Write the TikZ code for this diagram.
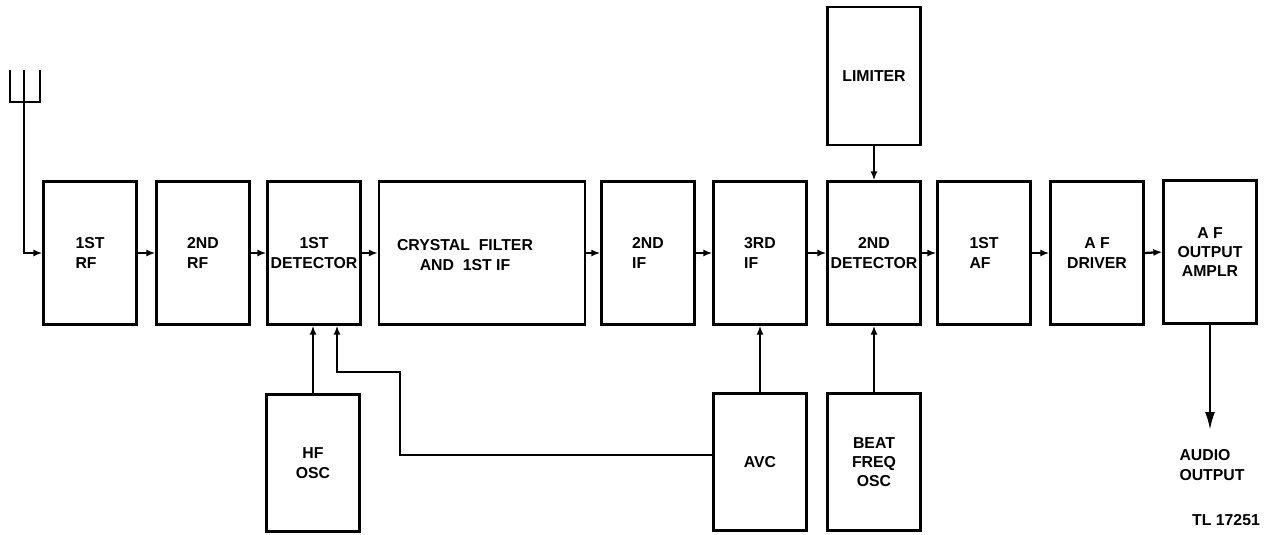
\documentclass[tikz,border=0pt]{standalone}
\usepackage{fontspec}
\setmainfont{Liberation Sans}
\usetikzlibrary{arrows.meta}

\begin{document}
\begin{tikzpicture}[x=0.02cm,y=-0.02cm]

    % styles
    \tikzstyle{blk} = [draw=black,line width=1.3pt,inner sep=0pt,minimum width=1.86cm,minimum height=2.86cm,font=\fontsize{9}{11}\selectfont\bfseries,align=center]
    \tikzstyle{lowblk} = [blk,minimum height=2.74cm]
    \tikzstyle{sig} = [line width=1.3pt,-{Latex[length=1.8mm,width=1.4mm]}]
    \tikzstyle{outsig} = [line width=1.3pt,-{Latex[length=3.6mm,width=2mm]}]
    \tikzstyle{wire} = [line width=1.3pt]
    \tikzstyle{lbl} = [font=\fontsize{9}{11}\selectfont\bfseries,align=left]

    \useasboundingbox (0,0) rectangle (1270,534);

    % main chain
    \node[blk,align=left] (rf1) at (90,253) {1ST\\RF};
    \node[blk,align=left] (rf2) at (203,253) {2ND\\RF};
    \node[blk] (det1) at (314,253) {1ST\\DETECTOR};
    \node[blk,minimum width=4.12cm] (xtal) at (482,253) {};
    \node[lbl,align=center] (xtaltxt) at (465,255) {CRYSTAL\ \ FILTER\\AND\ \ 1ST IF};
    \node[blk,align=left] (if2) at (648,253) {2ND\\IF};
    \node[blk,align=left] (if3) at (760,253) {3RD\\IF};
    \node[blk] (det2) at (874,253) {2ND\\DETECTOR};
    \node[blk,align=left] (af1) at (984,253) {1ST\\AF};
    \node[blk] (drv) at (1097,253) {A F\\DRIVER};
    \node[blk] (amp) at (1210,252) {A F\\OUTPUT\\AMPLR};

    % side blocks
    \node[blk,minimum height=2.76cm] (lim) at (874,76) {LIMITER};
    \node[lowblk] (hfo) at (313,463) {HF\\OSC};
    \node[lowblk] (avc) at (760,462) {AVC};
    \node[lowblk] (bfo) at (874,462) {BEAT\\FREQ\\OSC};

    % antenna
    \coordinate (ant) at (24,102);
    \draw[wire] (10,70) -- (10,102) -- (40,102) -- (40,70);
    \draw[wire] (ant) -- (24,70);
    \draw[sig] (ant) |- (rf1.west);

    % signal path
    \foreach \a/\b in {rf1/rf2,rf2/det1,det1/xtal,xtal/if2,if2/if3,if3/det2,det2/af1,af1/drv,drv/amp} {
        \draw[sig] (\a.east) -- (\b.west);
    }

    % feeds
    \draw[sig] (lim.south) -- (det2.north);
    \draw[sig] (hfo.north) -- (hfo.north |- det1.south);
    \draw[sig] (avc.north) -- (if3.south);
    \draw[sig] (bfo.north) -- (det2.south);
    \coordinate (avcbend) at (400,372);
    \draw[sig] ([yshift=0.14cm]avc.west) -| (avcbend) -| ([xshift=0.46cm]det1.south);

    % output
    \coordinate (audtip) at (1210,430);
    \draw[outsig] (amp.south) -- (audtip);
    \node[lbl] (audio) at (1212,465) {AUDIO\\OUTPUT};
    \node[lbl] (tl) at (1226,520) {TL 17251};
\end{tikzpicture}
\end{document}
